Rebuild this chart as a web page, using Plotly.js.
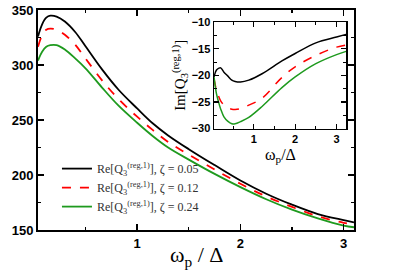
<!DOCTYPE html>
<html>
<head>
<meta charset="utf-8">
<script src="https://cdn.plot.ly/plotly-3.0.1.min.js"></script>
<style>html,body{margin:0;padding:0;background:#fff;}#chart{width:395px;height:279px;}</style>
</head>
<body>
<div id="chart"></div>
<script>
// Main panel: Re[Q3] vs omega_p / Delta
var reX = [0.04,0.08,0.12,0.16,0.22,0.3,0.4,0.5,0.66,0.82,1.0,1.15,1.3,1.5,1.75,2.0,2.25,2.5,2.75,3.0,3.1];
var reZ005 = [326,337,343,344.8,344,339.5,330,317,296,277.5,260.5,247,236,223.5,209,195,183,173,164.5,159,157];
var reZ012 = [316.5,327,332,333,332,327.5,318.5,306,286,269,253,241,230,218.5,205,192,180.5,171,162.5,156.5,155];
var reZ024 = [304,312,316.5,318,318,314,306,297,279.5,263,247.5,235.5,225,214,201,189,178,168.5,160.5,154,152.5];

// Inset: Im[Q3] vs omega_p / Delta
var imX = [0.04,0.1,0.16,0.2,0.28,0.37,0.47,0.55,0.68,0.88,1.2,1.68,2.0,2.5,3.0,3.23];
var imZ005 = [-20.3,-19.0,-18.65,-18.6,-19.4,-20.1,-20.9,-21.15,-21.25,-20.9,-19.7,-17.3,-15.9,-13.9,-12.8,-12.3];
var imZ012 = [-20.6,-22.8,-24.1,-24.8,-25.6,-26.1,-26.35,-26.4,-26.25,-25.6,-24.3,-20.4,-18.4,-16.25,-14.7,-14.3];
var imZ024 = [-20.3,-23.5,-25.3,-26.3,-27.8,-28.6,-29.1,-29.1,-28.7,-27.9,-25.85,-22.3,-20.3,-17.8,-16.1,-15.5];

var names = [
  "Re[Q<sub>3</sub><sup>(reg,1)</sup>], ζ = 0.05",
  "Re[Q<sub>3</sub><sup>(reg,1)</sup>], ζ = 0.12",
  "Re[Q<sub>3</sub><sup>(reg,1)</sup>], ζ = 0.24"
];
var mainXTitle = "ω<sub>p</sub> / Δ";
var insetXTitle = "ω<sub>p</sub>/Δ";
var insetYTitle = "Im[Q<sub>3</sub><sup>(reg,1)</sup>]";
var colors = ["#000000", "#ff0000", "#1e9a1e"];
var dashes = ["solid", "dash", "solid"];

var reSeries = [reZ005, reZ012, reZ024];
var imSeries = [imZ005, imZ012, imZ024];
var traces = [];
for (var i = 0; i < 3; i++) {
  traces.push({x: reX, y: reSeries[i], type: "scatter", mode: "lines", name: names[i],
    line: {color: colors[i], width: 1.8, dash: dashes[i], shape: "spline"}, xaxis: "x", yaxis: "y"});
}
for (var j = 0; j < 3; j++) {
  traces.push({x: imX, y: imSeries[j], type: "scatter", mode: "lines", showlegend: false,
    line: {color: colors[j], width: 1.5, dash: dashes[j], shape: "spline"}, xaxis: "x2", yaxis: "y2"});
}

var serif = "Liberation Serif, Times New Roman, serif";
var tickFontMain = {family: "Liberation Sans, Arial, sans-serif", size: 13, color: "#000", weight: "bold"};
var tickFontInset = {family: "Liberation Sans, Arial, sans-serif", size: 11, color: "#000", weight: "bold"};

var layout = {
  width: 395, height: 279,
  margin: {l: 38, r: 41, t: 10, b: 49},
  paper_bgcolor: "#fff", plot_bgcolor: "#fff",
  showlegend: true,
  legend: {x: 0.06, y: 0.345, xanchor: "left", yanchor: "top", bgcolor: "rgba(0,0,0,0)",
    font: {family: serif, size: 12, color: "#333"},
    tracegroupgap: 0},
  xaxis: {
    domain: [0, 1], range: [0.04, 3.1], tick0: 0, dtick: 1,
    ticks: "inside", ticklen: 6, tickwidth: 1.3, tickcolor: "#000",
    minor: {dtick: 0.5, ticks: "inside", ticklen: 3, tickwidth: 1.2, tickcolor: "#000"},
    showline: true, linecolor: "#000", linewidth: 2, mirror: "allticks",
    showgrid: false, zeroline: false, tickfont: tickFontMain
  },
  yaxis: {
    domain: [0, 1], range: [150, 350], tick0: 150, dtick: 50,
    ticks: "inside", ticklen: 6, tickwidth: 1.3, tickcolor: "#000",
    minor: {dtick: 25, ticks: "inside", ticklen: 3, tickwidth: 1.2, tickcolor: "#000"},
    showline: true, linecolor: "#000", linewidth: 2, mirror: "allticks",
    showgrid: false, zeroline: false, tickfont: tickFontMain
  },
  xaxis2: {
    domain: [0.557, 0.975], anchor: "y2", range: [0.04, 3.23], tick0: 0, dtick: 1,
    ticks: "inside", ticklen: 5, tickwidth: 1.2, tickcolor: "#000",
    minor: {dtick: 0.5, ticks: "inside", ticklen: 3, tickwidth: 1, tickcolor: "#000"},
    showline: true, linecolor: "#000", linewidth: 1.5, mirror: "allticks",
    showgrid: false, zeroline: false, tickfont: tickFontInset
  },
  yaxis2: {
    domain: [0.461, 0.945], anchor: "x2", range: [-30, -10], tick0: -30, dtick: 5,
    ticks: "inside", ticklen: 5, tickwidth: 1.2, tickcolor: "#000",
    minor: {dtick: 2.5, ticks: "inside", ticklen: 3, tickwidth: 1, tickcolor: "#000"},
    showline: true, linecolor: "#000", linewidth: 1.5, mirror: "allticks",
    showgrid: false, zeroline: false, tickfont: tickFontInset,
    title: {text: insetYTitle, font: {family: serif, size: 15, color: "#000"}, standoff: 2}
  },
  annotations: [
    {text: mainXTitle, xref: "paper", yref: "paper", x: 0.503, y: -0.12, xanchor: "center", yanchor: "middle",
     showarrow: false, font: {family: serif, size: 22, color: "#000"}},
    {text: insetXTitle, xref: "paper", yref: "paper", x: 0.766, y: 0.338, xanchor: "center", yanchor: "middle",
     showarrow: false, font: {family: serif, size: 16, color: "#000"}}
  ]
};

Plotly.newPlot("chart", traces, layout, {staticPlot: true, displayModeBar: false});
</script>
</body>
</html>
